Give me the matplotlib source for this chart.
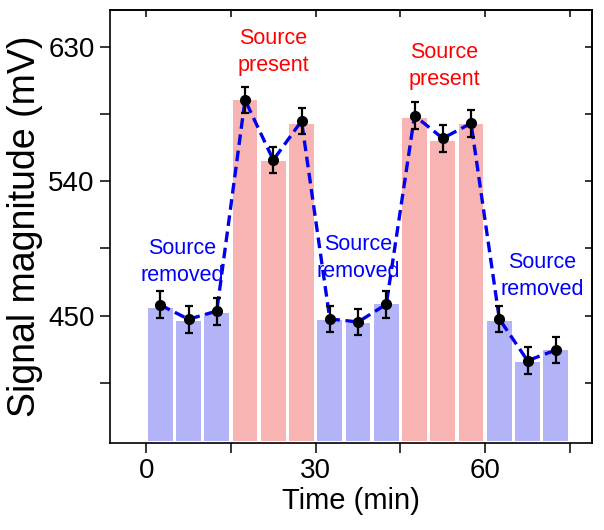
import matplotlib
matplotlib.use("Agg")
import matplotlib.pyplot as plt
import numpy as np

plt.rcParams['font.family'] = ['Liberation Sans', 'DejaVu Sans']

# Data
times = [2.5, 7.5, 12.5, 17.5, 22.5, 27.5, 32.5, 37.5, 42.5,
         47.5, 52.5, 57.5, 62.5, 67.5, 72.5]
bar_values = [455.0, 446.7, 451.6, 594.4, 553.7, 578.3, 447.1, 444.9, 457.8,
              582.6, 566.9, 578.3, 446.7, 419.2, 427.0]
point_values = [457.2, 447.6, 453.1, 594.4, 554.2, 580.3, 447.8, 445.8, 457.6,
                583.9, 568.7, 578.8, 447.8, 419.9, 427.0]
errors = [9, 9, 9, 9, 9, 9, 9, 9, 9, 9, 9, 9, 9, 9, 9]
source_state = ['removed'] * 3 + ['present'] * 3 + ['removed'] * 3 + ['present'] * 3 + ['removed'] * 3

annotations = [
    ("Source\nremoved", 6.3, 486.0, 'removed'),
    ("Source\npresent", 22.5, 626.5, 'present'),
    ("Source\nremoved", 37.5, 488.6, 'removed'),
    ("Source\npresent", 52.7, 617.3, 'present'),
    ("Source\nremoved", 70.1, 476.6, 'removed'),
]

xticks = [0, 15, 30, 45, 60, 75]
xticklabels = ['0', '', '30', '', '60', '']
yticks = [405, 450, 495, 540, 585, 630]
yticklabels = ['', '450', '', '540', '', '630']

bar_colors = {'removed': '#b3b3f7', 'present': '#f8b3b3'}
text_colors = {'removed': '#0000ff', 'present': '#ff0000'}

fig = plt.figure(figsize=(6.04, 5.30), dpi=100)
ax = fig.add_axes([0.1821, 0.1642, 0.9801 - 0.1821, 0.9811 - 0.1642])

base = 366.0
heights = [v - base for v in bar_values]
ax.bar(times, heights, bottom=base, width=4.4,
       color=[bar_colors[s] for s in source_state], edgecolor='none', zorder=1)

ax.plot(times, point_values, linestyle=(0, (3.2, 1.7)), color='#0000ee',
        linewidth=2.4, zorder=2)
ax.errorbar(times, point_values, yerr=errors, fmt='o', color='black',
            markersize=7, elinewidth=1.6, capsize=3.2, capthick=1.6, zorder=3)

for txt, x, y, s in annotations:
    ax.text(x, y, txt, ha='center', va='center', fontsize=15.5,
            color=text_colors[s], linespacing=1.4, zorder=4)

ax.set_xlim(-6.4, 78.9)
ax.set_ylim(364.8, 654.6)
ax.set_xticks(xticks)
ax.set_xticklabels(xticklabels)
ax.set_yticks(yticks)
ax.set_yticklabels(yticklabels)
ax.tick_params(axis='both', direction='out', length=7, width=1.1,
               labelsize=20, pad=4)

for sp in ax.spines.values():
    sp.set_linewidth(1.2)

secx = ax.secondary_xaxis('top')
secx.set_xticks(xticks)
secx.tick_params(direction='in', length=5, width=1.1, labeltop=False)
secx.spines['top'].set_linewidth(1.2)
secy = ax.secondary_yaxis('right')
secy.set_yticks(yticks)
secy.tick_params(direction='in', length=5, width=1.1, labelright=False)
secy.spines['right'].set_linewidth(1.2)

ax.set_xlabel('Time (min)', fontsize=21, labelpad=2)
ax.set_ylabel('Signal magnitude (mV)', fontsize=27, labelpad=4)

fig.savefig('out.png', dpi=100)
